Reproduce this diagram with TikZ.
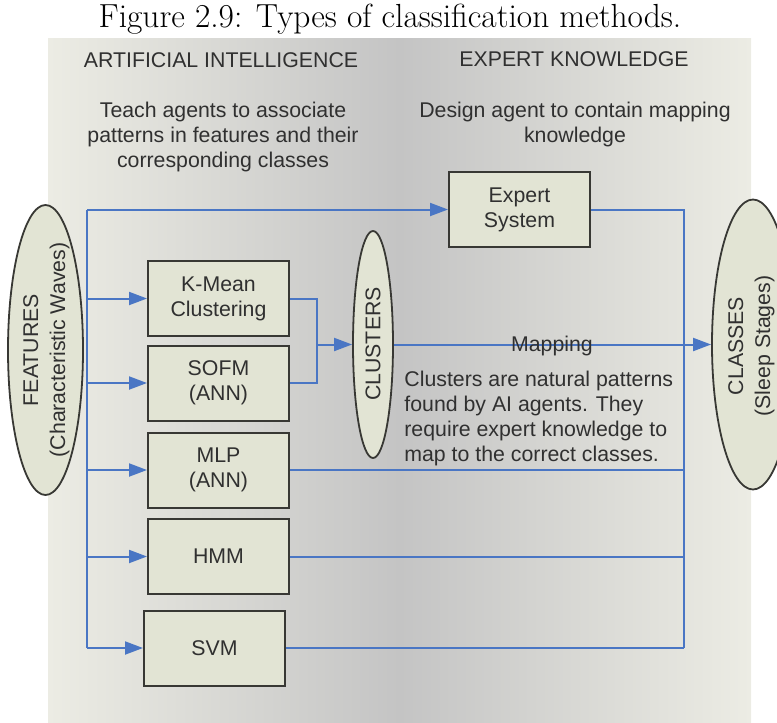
\documentclass[tikz,border=0pt]{standalone}
\usepackage{fontspec}
\newfontfamily\arialfont{Liberation Sans}
\usetikzlibrary{shapes.geometric,arrows.meta}
\definecolor{flowblue}{RGB}{74,118,196}
\definecolor{boxfill}{RGB}{226,228,212}
\definecolor{boxline}{RGB}{56,56,52}
\definecolor{inktext}{RGB}{48,48,48}
\definecolor{paneledge}{RGB}{236,236,228}
\definecolor{panelmid}{RGB}{196,196,196}

\begin{document}
\begin{tikzpicture}[x=0.5pt,y=-0.5pt,
  sans/.style={font=\arialfont\fontsize{10.65}{12.5}\selectfont, text=inktext, inner sep=0pt},
  method/.style={sans, draw=boxline, fill=boxfill, line width=1pt,
    minimum width=70.5pt, minimum height=37.5pt, align=center},
  blob/.style={ellipse, draw=boxline, fill=boxfill, line width=0.9pt, inner sep=0pt},
  vlabel/.style={sans, rotate=90, align=center, font=\arialfont\fontsize{10.65}{13.5}\selectfont},
  flow/.style={draw=flowblue, line width=1pt},
  feed/.style={flow, -{Triangle[length=9pt,width=6.5pt]}},
]
\useasboundingbox (0,0) rectangle (777,723);

% shaded panel behind the diagram: light at both sides, darker in the middle
\fill[left color=paneledge, right color=paneledge, middle color=panelmid]
  (48,38) rectangle (751,723);

% caption
\node[anchor=base, inner sep=0pt, font=\fontsize{16.7}{20}\selectfont] (title) at (390,27)
  {Figure 2.9: Types of classification methods.};

% column headings
\node[sans, anchor=base] (aihead) at (221,67.5) {ARTIFICIAL INTELLIGENCE};
\node[sans, anchor=base] (ekhead) at (574,66.5) {EXPERT KNOWLEDGE};
\node[sans, align=center] (aitext) at (223,137)
  {Teach agents to associate\\patterns in features and their\\corresponding classes};
\node[sans, align=center] (ektext) at (575,124.5)
  {Design agent to contain mapping\\knowledge};

% classifier boxes
\node[method] (expert) at (519.5,209.5) {Expert\\System};
\node[method] (kmean)  at (218.5,298.5) {K-Mean\\Clustering};
\node[method] (sofm)   at (218.5,383)   {SOFM\\(ANN)};
\node[method] (mlp)    at (218.5,470)   {MLP\\(ANN)};
\node[method] (hmm)    at (218.5,556.5) {HMM};
\node[method] (svm)    at (214.5,648)   {SVM};

% input, intermediate and output ellipses
\node[blob, minimum width=37.5pt, minimum height=145pt] (features) at (45.5,350) {};
\node[vlabel] (featurestext) at (46.5,350) {FEATURES\\(Characteristic Waves)};
\node[blob, minimum width=20pt, minimum height=113.5pt] (clusters) at (373,344.5) {};
\node[vlabel] (clusterstext) at (373,344) {CLUSTERS};
\node[blob, minimum width=41pt, minimum height=145pt] (classes) at (753,344.5) {};
\node[vlabel] (classestext) at (751.5,346) {CLASSES\\(Sleep Stages)};

% routing points
\coordinate (bustop)  at (87,209.5);
\coordinate (busbot)  at (87,648);
\coordinate (merge)   at (317,344.5);
\coordinate (collbot) at (684,648);

% feature bus and its branches
\draw[flow, line width=1.4pt] (bustop) -- (busbot);
\draw[feed] (bustop) -- (expert.west);
\foreach \m in {kmean,sofm,mlp,hmm}
  \draw[feed] (bustop |- \m.west) -- (\m.west);
\draw[feed] (busbot) -- (svm.west);

% clustering methods join into the clusters
\draw[flow] (kmean.east) -| (merge);
\draw[flow] (sofm.east) -| (merge);
\draw[feed] (merge) -- (clusters.west);

% outputs gathered towards the classes
\draw[flow] (expert.east) -| (collbot);
\foreach \m in {mlp,hmm,svm}
  \draw[flow] (\m.east) -- (\m.east -| collbot);
\draw[feed] (clusters.east) -- (classes.west);

\node[sans, anchor=base] (maplabel) at (552,351) {Mapping};
\node[sans, align=left, anchor=north west] (clusternote) at (404,371)
  {Clusters are natural patterns\\found by AI agents. They\\require expert knowledge to\\map to the correct classes.};
\end{tikzpicture}
\end{document}
